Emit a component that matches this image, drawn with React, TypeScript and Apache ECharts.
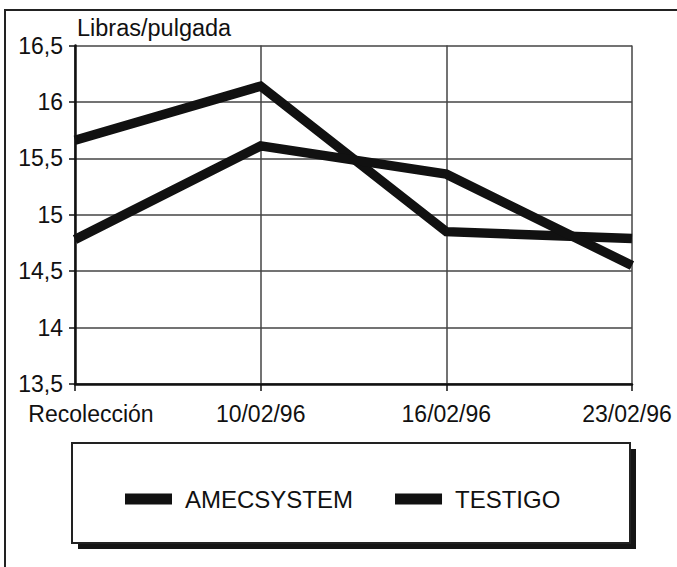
import React, { useEffect, useRef } from "react";
import * as echarts from "echarts";

const categories = ["Recolección", "10/02/96", "16/02/96", "23/02/96"];
const amecsystem = [15.66, 16.14, 14.85, 14.79];
const testigo = [14.78, 15.61, 15.36, 14.55];
const yMin = 13.5;
const yMax = 16.5;
const yStep = 0.5;
const yAxisTitle = "Libras/pulgada";
const seriesNames = ["AMECSYSTEM", "TESTIGO"];

export default function App() {
  const ref = useRef<HTMLDivElement>(null);
  useEffect(() => {
    if (!ref.current) return;
    const chart = echarts.init(ref.current, null, { renderer: "svg" });
    const font = "'Liberation Sans', Arial, Helvetica, sans-serif";
    const ink = "#111";
    const lastIdx = categories.length - 1;
    const catData = categories.map((c, i) =>
      i === 0
        ? { value: c, textStyle: { padding: [0, 0, 0, 32] } }
        : i === lastIdx
        ? { value: c, textStyle: { padding: [0, 10, 0, 0] } }
        : c
    );
    chart.setOption({
      animation: false,
      backgroundColor: "#fff",
      grid: { left: 75, right: 45, top: 45.5, bottom: 183, containLabel: false },
      xAxis: {
        type: "category",
        data: catData,
        boundaryGap: false,
        axisLine: { show: true, lineStyle: { color: ink, width: 2.5 } },
        axisTick: { show: true, length: 7, lineStyle: { color: ink, width: 1.5 } },
        axisLabel: { color: ink, fontSize: 23, fontFamily: font, margin: 18 },
        splitLine: { show: true, lineStyle: { color: "#444", width: 1.5 } },
      },
      yAxis: {
        type: "value",
        min: yMin,
        max: yMax,
        interval: yStep,
        axisLine: { show: true, lineStyle: { color: ink, width: 2.5 } },
        axisTick: { show: true, length: 6, lineStyle: { color: ink, width: 1.5 } },
        axisLabel: {
          color: ink,
          fontSize: 23,
          fontFamily: font,
          margin: 12,
          formatter: (v: number) => String(v).replace(".", ","),
        },
        splitLine: { show: true, lineStyle: { color: "#444", width: 1.5 } },
      },
      legend: {
        data: seriesNames,
        left: 120,
        top: 482,
        itemWidth: 47,
        itemHeight: 11,
        itemGap: 42,
        icon: "rect",
        textStyle: { color: ink, fontSize: 24, fontFamily: font, padding: [0, 0, 0, 8] },
      },
      graphic: [
        {
          type: "rect",
          shape: { x: 5, y: 10, width: 720, height: 620 },
          style: { fill: "none", stroke: "#222", lineWidth: 2 },
          z: -10,
        },
        {
          type: "rect",
          shape: { x: 78, y: 449, width: 558, height: 100 },
          style: { fill: "#151515" },
          z: -5,
        },
        {
          type: "rect",
          shape: { x: 72, y: 443, width: 558, height: 100 },
          style: { fill: "#fff", stroke: "#222", lineWidth: 2 },
          z: -4,
        },
        {
          type: "text",
          x: 77,
          y: 28,
          style: {
            text: yAxisTitle,
            fill: ink,
            font: `23.5px ${font}`,
            textVerticalAlign: "middle",
            verticalAlign: "middle",
          },
        },
      ],
      series: [
        {
          name: seriesNames[0],
          type: "line",
          data: amecsystem,
          showSymbol: false,
          symbol: "none",
          itemStyle: { color: ink },
          lineStyle: { color: ink, width: 9.5, join: "miter", cap: "butt" },
        },
        {
          name: seriesNames[1],
          type: "line",
          data: testigo,
          showSymbol: false,
          symbol: "none",
          itemStyle: { color: ink },
          lineStyle: { color: ink, width: 9.5, join: "miter", cap: "butt" },
        },
      ],
    });
    return () => chart.dispose();
  }, []);
  return (
    <div
      ref={ref}
      style={{ position: "fixed", left: 0, top: 0, width: 677, height: 567 }}
    />
  );
}
